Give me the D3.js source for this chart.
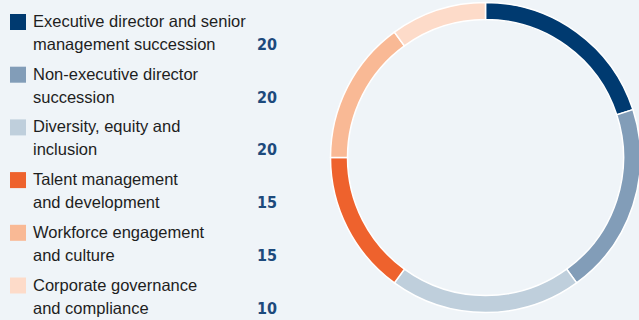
<!DOCTYPE html>
<html>
<head>
<meta charset="utf-8">
<script src="https://cdn.jsdelivr.net/npm/d3@7"></script>
<style>
  html, body { margin: 0; padding: 0; background: #eff4f8; }
  svg { display: block; }
</style>
</head>
<body>
<svg id="chart" width="639" height="320"></svg>
<script>
// Board time allocation by topic
const lines = [
  ["Executive director and senior", "management succession"],
  ["Non-executive director", "succession"],
  ["Diversity, equity and", "inclusion"],
  ["Talent management", "and development"],
  ["Workforce engagement", "and culture"],
  ["Corporate governance", "and compliance"]
];
const values = [20, 20, 20, 15, 15, 10];
const colors = ["#003a70", "#829db8", "#bfcfdc", "#ee622d", "#f9b995", "#fddbc9"];

const svg = d3.select("#chart");
const W = 639, H = 320;

svg.append("rect").attr("width", W).attr("height", H).attr("fill", "#eff4f8");

// Ring
const cx = 485.5, cy = 157.5, rOuter = 155, rInner = 138;
const pie = d3.pie().sort(null).value(d => d)(values);
const arc = d3.arc().innerRadius(rInner).outerRadius(rOuter);

svg.append("g")
  .attr("transform", `translate(${cx},${cy})`)
  .selectAll("path")
  .data(pie)
  .join("path")
  .attr("d", arc)
  .attr("fill", (d, i) => colors[i])
  .attr("stroke", "#ffffff")
  .attr("stroke-width", 1.5);

// Legend
const rowY = d3.scaleLinear().domain([0, 1]).range([0, 52.7]);
const legend = svg.append("g").attr("transform", "translate(10,14)");
const row = legend.selectAll("g")
  .data(values)
  .join("g")
  .attr("transform", (d, i) => `translate(0,${rowY(i)})`);

row.append("rect")
  .attr("width", 16).attr("height", 16)
  .attr("fill", (d, i) => colors[i]);

row.append("text")
  .attr("x", 23).attr("y", 13)
  .attr("font-family", "'Liberation Sans', Arial, sans-serif")
  .attr("font-size", 16.5)
  .attr("fill", "#1e1e1e")
  .selectAll("tspan")
  .data((d, i) => lines[i])
  .join("tspan")
  .attr("x", 23)
  .attr("dy", (d, j) => j === 0 ? 0 : 23)
  .text(d => d);

row.append("text")
  .attr("x", 267).attr("y", 36)
  .attr("text-anchor", "end")
  .attr("font-family", "'Liberation Sans Narrow', 'DejaVu Sans Condensed', sans-serif")
  .attr("font-weight", "bold")
  .attr("font-size", 16)
  .attr("fill", "#1d4a7c")
  .text(d => d);
</script>
</body>
</html>
